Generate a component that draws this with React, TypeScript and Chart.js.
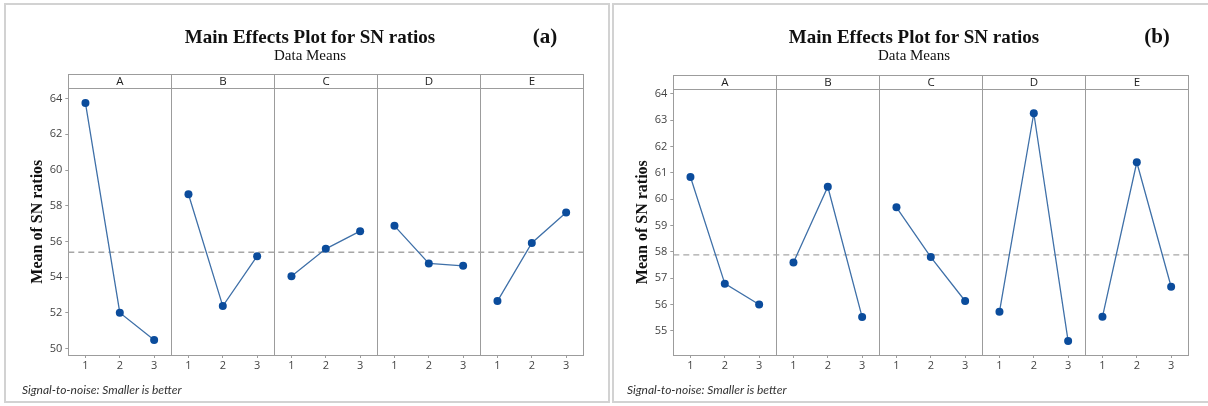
import React, { useEffect, useRef } from 'react';
import { Chart, registerables } from 'chart.js';
Chart.register(...registerables);

// ---- data ----
const factors = ['A', 'B', 'C', 'D', 'E'];
const levels = [1, 2, 3];

// panel (a)
const snA_A = [63.75, 52.0, 50.47];
const snA_B = [58.64, 52.37, 55.17];
const snA_C = [54.05, 55.58, 56.57];
const snA_D = [56.87, 54.76, 54.63];
const snA_E = [52.65, 55.91, 57.62];
const meanA = 55.39;
const yTicksA = [50, 52, 54, 56, 58, 60, 62, 64];

// panel (b)
const snB_A = [60.84, 56.79, 56.0];
const snB_B = [57.59, 60.47, 55.52];
const snB_C = [59.69, 57.8, 56.13];
const snB_D = [55.72, 63.26, 54.61];
const snB_E = [55.53, 61.4, 56.67];
const meanB = 57.88;
const yTicksB = [55, 56, 57, 58, 59, 60, 61, 62, 63, 64];

const titleText = 'Main Effects Plot for SN ratios';
const subtitleText = 'Data Means';
const yTitle = 'Mean of SN ratios';
const footerText = 'Signal-to-noise: Smaller is better';

// ---- styles ----
const LINE = '#3f70a8';
const PT = '#0b4c9c';
const AXIS = '#9c9c9c';
const SANS = '"Open Sans", "Noto Sans", sans-serif';
const SERIF = '"Liberation Serif", "Times New Roman", serif';

const facetPlugin = {
  id: 'facets',
  beforeDatasetsDraw(chart: any) {
    const { ctx, chartArea: ca, scales } = chart;
    const x = scales.x;
    const n = levels.length;
    ctx.save();
    ctx.strokeStyle = AXIS;
    ctx.lineWidth = 1;
    for (let i = 1; i <= factors.length; i++) {
      const px = Math.round(x.getPixelForValue(i * n + 0.5)) + 0.5;
      ctx.beginPath();
      ctx.moveTo(px, ca.top);
      ctx.lineTo(px, ca.bottom);
      ctx.stroke();
    }
    ctx.restore();
  },
  afterDraw(chart: any) {
    const { ctx, chartArea: ca, scales } = chart;
    const x = scales.x;
    const n = levels.length;
    const h = 14;
    ctx.save();
    ctx.strokeStyle = AXIS;
    ctx.lineWidth = 1;
    ctx.fillStyle = '#222';
    ctx.font = `11.5px ${SANS}`;
    ctx.textAlign = 'center';
    ctx.textBaseline = 'middle';
    const top = Math.round(ca.top) + 0.5;
    factors.forEach((f, i) => {
      const l = Math.round(x.getPixelForValue(i * n + 0.5)) + 0.5;
      const r = Math.round(x.getPixelForValue(i * n + n + 0.5)) + 0.5;
      ctx.strokeRect(l, top - h, r - l, h);
      ctx.fillText(f, (l + r) / 2, top - h / 2 + 0.5);
    });
    ctx.restore();
  },
};

function buildConfig(series: number[][], mean: number, yTicks: number[], yMin: number, yMax: number,
  pad: { left: number; right: number; top: number; bottom: number }, yWidth: number, titlePad: number) {
  const n = levels.length;
  const datasets: any[] = series.map((vals, i) => ({
    data: levels.map((lv, j) => ({ x: i * n + lv, y: vals[j] })),
    borderColor: LINE,
    borderWidth: 1.3,
    pointRadius: 4,
    pointBackgroundColor: PT,
    pointBorderColor: PT,
    pointBorderWidth: 0,
    tension: 0,
    fill: false,
  }));
  datasets.push({
    data: [{ x: 0.5, y: mean }, { x: factors.length * n + 0.5, y: mean }],
    borderColor: '#a6a6a6',
    borderWidth: 1.3,
    borderDash: [6, 4],
    pointRadius: 0,
    fill: false,
  });
  return {
    type: 'line',
    data: { datasets },
    options: {
      responsive: false,
      animation: false,
      events: [],
      layout: { padding: pad },
      plugins: { legend: { display: false }, tooltip: { enabled: false }, title: { display: false } },
      scales: {
        x: {
          type: 'linear',
          min: 0.5,
          max: factors.length * n + 0.5,
          afterBuildTicks: (s: any) => {
            const t: any[] = [];
            factors.forEach((_, i) => levels.forEach((lv) => t.push({ value: i * n + lv })));
            s.ticks = t;
          },
          afterFit: (s: any) => { s.height = 20; },
          grid: { drawOnChartArea: false, drawTicks: true, tickLength: 3, color: AXIS },
          border: { color: AXIS, width: 1 },
          ticks: {
            autoSkip: false,
            maxRotation: 0,
            padding: 1,
            color: '#444',
            font: { family: SANS, size: 11 },
            callback: (v: number) => String(levels[(Math.round(v) - 1) % n]),
          },
        },
        y: {
          type: 'linear',
          min: yMin,
          max: yMax,
          afterBuildTicks: (s: any) => { s.ticks = yTicks.map((v) => ({ value: v })); },
          afterFit: (s: any) => { s.width = yWidth; },
          grid: { drawOnChartArea: false, drawTicks: true, tickLength: 3, color: AXIS },
          border: { color: AXIS, width: 1 },
          ticks: { padding: 3, color: '#444', font: { family: SANS, size: 11 } },
          title: {
            display: true,
            text: yTitle,
            color: '#111',
            align: 'center',
            font: { family: SERIF, size: 16, weight: 'bold' },
            padding: { top: titlePad, bottom: 0 },
          },
        },
      },
    },
    plugins: [facetPlugin],
  } as any;
}

function Half(props: { left: number; width: number; label: string; titleX: number; labelX: number; footX: number; cfg: any }) {
  const ref = useRef<HTMLCanvasElement>(null);
  useEffect(() => {
    const c = new Chart(ref.current as HTMLCanvasElement, props.cfg);
    return () => c.destroy();
  }, []);
  const { left, width, label, titleX, labelX, footX } = props;
  const txt = (x: number, y: number, style: any, s: string) => (
    <div style={{ position: 'absolute', left: x, top: y, transform: 'translate(-50%,-50%)', whiteSpace: 'nowrap', lineHeight: 1, ...style }}>{s}</div>
  );
  return (
    <div style={{ position: 'absolute', left, top: 0, width, height: 406 }}>
      <canvas ref={ref} width={width} height={406} style={{ position: 'absolute', left: 0, top: 0, width, height: 406 }} />
      {txt(titleX, 36, { fontFamily: SERIF, fontWeight: 'bold', fontSize: 19, color: '#111' }, titleText)}
      {txt(titleX, 55, { fontFamily: SERIF, fontSize: 15, color: '#111' }, subtitleText)}
      {txt(labelX, 36, { fontFamily: SERIF, fontWeight: 'bold', fontSize: 21, color: '#111' }, label)}
      <div style={{ position: 'absolute', left: footX, top: 384, whiteSpace: 'nowrap', lineHeight: 1, fontFamily: '"Lato", sans-serif', fontStyle: 'italic', fontSize: 12, color: '#333' }}>{footerText}</div>
    </div>
  );
}

export default function App() {
  const cfgA = buildConfig([snA_A, snA_B, snA_C, snA_D, snA_E], meanA, yTicksA, 49.63, 64.58,
    { left: 0, right: 26.7, top: 88.3, bottom: 31 }, 68.3, 28);
  const cfgB = buildConfig([snB_A, snB_B, snB_C, snB_D, snB_E], meanB, yTicksB, 54.08, 64.17,
    { left: 0, right: 19.7, top: 89.3, bottom: 31 }, 63.3, 23);
  return (
    <div style={{ position: 'absolute', left: 0, top: 0, width: 1208, height: 406, background: '#fff', overflow: 'hidden' }}>
      <div style={{ position: 'absolute', left: 4, top: 3, width: 602, height: 396, border: '2px solid #d2d2d2' }} />
      <div style={{ position: 'absolute', left: 612, top: 3, width: 600, height: 396, border: '2px solid #d2d2d2' }} />
      <Half left={0} width={610} label="(a)" titleX={310} labelX={545} footX={22} cfg={cfgA} />
      <Half left={610} width={598} label="(b)" titleX={304} labelX={547} footX={17} cfg={cfgB} />
    </div>
  );
}
